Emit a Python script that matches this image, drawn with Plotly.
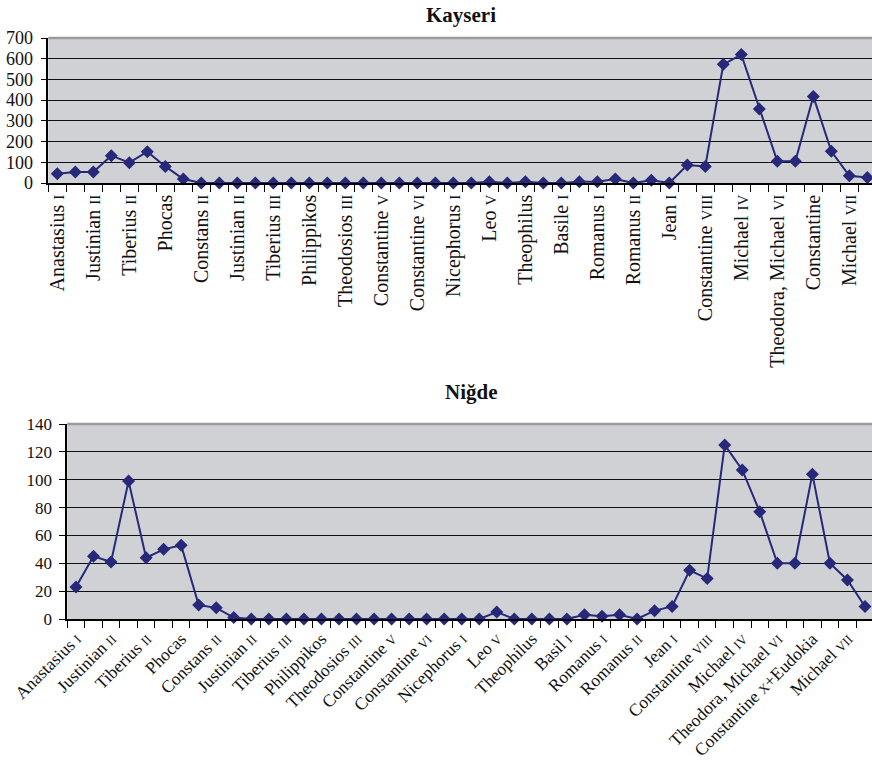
import plotly.graph_objects as go

W, H = 872, 763

# Coin finds per reign (46 consecutive reigns, labelled on every other reign)
kayseri = [45, 53, 53, 132, 98, 151, 80, 19, 0, 0,
           0, 0, 0, 0, 0, 0, 0, 0, 0, 0,
           0, 0, 0, 0, 6, 0, 6, 0, 0, 6,
           6, 19, 0, 13, 0, 87, 80, 573, 620, 357,
           105, 105, 418, 153, 35, 26]

nigde = [23, 45, 41, 99, 44, 50, 53, 10, 8, 1,
         0, 0, 0, 0, 0, 0, 0, 0, 0, 0,
         0, 0, 0, 0, 5, 0, 0, 0, 0, 3,
         2, 3, 0, 6, 9, 35, 29, 125, 107, 77,
         40, 40, 104, 40, 28, 9]

# (name, regnal numeral) for the labelled reigns
labels_kayseri = [("Anastasius", "I"), ("Justinian", "II"), ("Tiberius", "II"), ("Phocas", ""),
                  ("Constans", "II"), ("Justinian", "II"), ("Tiberius", "III"), ("Philippikos", ""),
                  ("Theodosios", "III"), ("Constantine", "V"), ("Constantine", "VI"),
                  ("Nicephorus", "I"), ("Leo", "V"), ("Theophilus", ""), ("Basile", "I"),
                  ("Romanus", "I"), ("Romanus", "II"), ("Jean", "I"), ("Constantine", "VIII"),
                  ("Michael", "IV"), ("Theodora, Michael", "VI"), ("Constantine", ""),
                  ("Michael", "VII")]

labels_nigde = [("Anastasius", "I"), ("Justinian", "II"), ("Tiberius", "II"), ("Phocas", ""),
                ("Constans", "II"), ("Justinian", "II"), ("Tiberius", "III"), ("Philippikos", ""),
                ("Theodosios", "III"), ("Constantine", "V"), ("Constantine", "VI"),
                ("Nicephorus", "I"), ("Leo", "V"), ("Theophilus", ""), ("Basil", "I"),
                ("Romanus", "I"), ("Romanus", "II"), ("Jean", "I"), ("Constantine", "VIII"),
                ("Michael", "IV"), ("Theodora, Michael", "VI"), ("Constantine", "X+Eudokia"),
                ("Michael", "VII")]

FONT = "Liberation Serif, Times New Roman, serif"
LINE = "#27287a"
BG = "#d0d1d4"


def fmt(name, num, small):
    if not num:
        return name
    if num.startswith("X+"):
        return f'{name} <span style="font-size:{small}px">X</span>+Eudokia'
    return f'{name} <span style="font-size:{small}px">{num}</span>'


x_idx = list(range(len(kayseri)))
label_pos = list(range(0, len(kayseri) - 1, 2))


def ydom(top_px, bottom_px):
    return [1 - bottom_px / H, 1 - top_px / H]


fig = go.Figure()
fig.add_trace(go.Scatter(x=x_idx, y=kayseri, mode="lines+markers", xaxis="x", yaxis="y",
                         line=dict(color=LINE, width=2),
                         marker=dict(symbol="diamond", size=10, color=LINE),
                         cliponaxis=False, showlegend=False))
fig.add_trace(go.Scatter(x=x_idx, y=nigde, mode="lines+markers", xaxis="x2", yaxis="y2",
                         line=dict(color=LINE, width=2),
                         marker=dict(symbol="diamond", size=10, color=LINE),
                         cliponaxis=False, showlegend=False))

common_x = dict(showline=True, linecolor="black", linewidth=1.5, showgrid=False, zeroline=False,
                automargin=False, tickmode="array", ticks="",
                minor=dict(ticks="outside", tickmode="linear", tick0=-0.5, dtick=1,
                           ticklen=7, tickcolor="black", tickwidth=1, showgrid=False))
common_y = dict(showline=True, linecolor="black", linewidth=1.5, showgrid=True,
                gridcolor="#111", gridwidth=1.2, zeroline=False, ticks="outside",
                automargin=False, ticklen=6, tickcolor="black", tickwidth=1)

k_left = 48.3 / W
n_left = 67.2 / W

fig.update_layout(
    template="none",
    width=W, height=H,
    margin=dict(l=0, r=0, t=0, b=0, pad=0),
    paper_bgcolor="white", plot_bgcolor=BG,
    font=dict(family=FONT, color="#111"),
    xaxis=dict(domain=[k_left, 1], anchor="y", range=[-0.5, 45.26],
               tickvals=label_pos, ticktext=[fmt(n, r, 15) for n, r in labels_kayseri],
               tickfont=dict(family=FONT, size=20, color="#111"),
               tickangle=-90, ticklabelstandoff=2, **common_x),
    yaxis=dict(domain=ydom(38, 183), anchor="x", range=[0, 700], dtick=100,
               tickfont=dict(family=FONT, size=18, color="#111"), ticklabelstandoff=4, **common_y),
    xaxis2=dict(domain=[n_left, 1], anchor="y2", range=[-0.5, 45.4],
                tickvals=label_pos, ticktext=[fmt(n, r, 13) for n, r in labels_nigde],
                tickfont=dict(family=FONT, size=17.5, color="#111"),
                tickangle=-45, ticklabelstandoff=1, **common_x),
    yaxis2=dict(domain=ydom(424, 619), anchor="x2", range=[0, 140], dtick=20,
                tickfont=dict(family=FONT, size=17, color="#111"), ticklabelstandoff=4, **common_y),
)

# grey border along the top of each plot area
for left, top in ((k_left, 38), (n_left, 424)):
    fig.add_shape(type="line", xref="paper", yref="paper", x0=left, x1=1,
                  y0=1 - top / H, y1=1 - top / H, line=dict(color="#9a9a9a", width=2.5))

fig.add_annotation(text="<b>Kayseri</b>", xref="paper", yref="paper",
                   x=461 / W, y=1 - 29 / H, yanchor="bottom", showarrow=False,
                   font=dict(family=FONT, size=21, color="#111"))
fig.add_annotation(text="<b>Niğde</b>", xref="paper", yref="paper",
                   x=471 / W, y=1 - 406 / H, yanchor="bottom", showarrow=False,
                   font=dict(family=FONT, size=21, color="#111"))

fig.write_html("out.html")
